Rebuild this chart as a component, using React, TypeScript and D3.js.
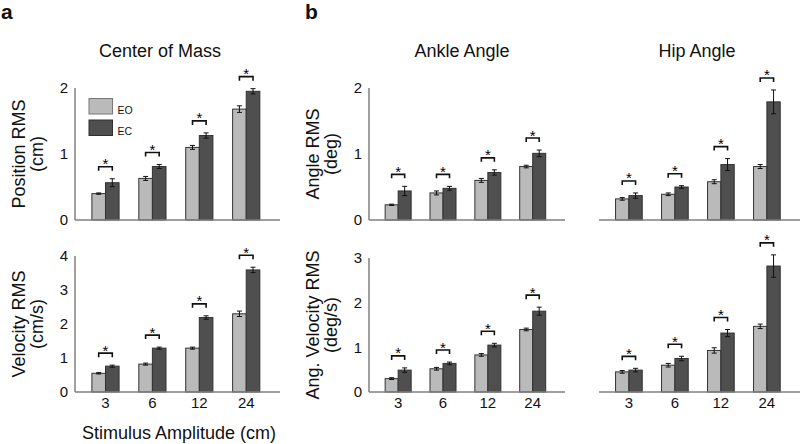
import React from "react";
import * as d3 from "d3";

// ---- data ----
const amplitudes = ["3", "6", "12", "24"];
const conditions = ["EO", "EC"];

const comPosEO = [0.4, 0.63, 1.1, 1.68];
const comPosEOErr = [0.01, 0.03, 0.03, 0.05];
const comPosEC = [0.565, 0.81, 1.28, 1.95];
const comPosECErr = [0.06, 0.03, 0.04, 0.04];

const comVelEO = [0.55, 0.82, 1.29, 2.3];
const comVelEOErr = [0.02, 0.03, 0.03, 0.08];
const comVelEC = [0.76, 1.29, 2.19, 3.59];
const comVelECErr = [0.03, 0.03, 0.05, 0.08];

const ankPosEO = [0.23, 0.41, 0.6, 0.81];
const ankPosEOErr = [0.01, 0.03, 0.03, 0.02];
const ankPosEC = [0.44, 0.48, 0.72, 1.01];
const ankPosECErr = [0.07, 0.03, 0.04, 0.05];

const hipPosEO = [0.32, 0.39, 0.58, 0.81];
const hipPosEOErr = [0.02, 0.02, 0.03, 0.03];
const hipPosEC = [0.37, 0.5, 0.84, 1.79];
const hipPosECErr = [0.04, 0.02, 0.09, 0.18];

const ankVelEO = [0.3, 0.52, 0.83, 1.4];
const ankVelEOErr = [0.02, 0.03, 0.03, 0.03];
const ankVelEC = [0.49, 0.64, 1.05, 1.81];
const ankVelECErr = [0.05, 0.03, 0.04, 0.09];

const hipVelEO = [0.45, 0.6, 0.93, 1.47];
const hipVelEOErr = [0.03, 0.04, 0.06, 0.05];
const hipVelEC = [0.49, 0.75, 1.32, 2.82];
const hipVelECErr = [0.04, 0.05, 0.08, 0.25];

const posTicks = [0, 1, 2];
const comVelTicks = [0, 1, 2, 3, 4];
const angVelTicks = [0, 1, 2, 3];

// ---- styling ----
const FONT = "'Liberation Sans', Arial, Helvetica, sans-serif";
const EO_FILL = "#bababa";
const EC_FILL = "#4f4f4f";
const BAR_STROKE = "#333";
const AXIS = "#808080";

type PanelProps = {
  x0: number;
  x1: number;
  yTop: number;
  yBottom: number;
  ymax: number;
  ticks: number[] | null;
  eo: number[];
  eoErr: number[];
  ec: number[];
  ecErr: number[];
  ylabel?: [string, string];
  title?: string;
  titleX?: number;
  xLabels?: boolean;
  legend?: boolean;
};

function Panel(p: PanelProps) {
  const x = d3.scaleLinear().domain([0.35, 4.72]).range([p.x0, p.x1]);
  const y = d3.scaleLinear().domain([0, p.ymax]).range([p.yBottom, p.yTop]);
  const bw = x(1.29) - x(1);
  const cats = d3.range(amplitudes.length);
  const center = (i: number) => x(i + 1);
  const yMid = (p.yTop + p.yBottom) / 2;

  return (
    <g fontFamily={FONT}>
      {p.title && (
        <text x={p.titleX} y={57} fontSize={18} textAnchor="middle" fill="#111">
          {p.title}
        </text>
      )}
      {cats.map((i) => {
        const c = center(i);
        const bars = [
          { v: p.eo[i], e: p.eoErr[i], x: c - bw, fill: EO_FILL },
          { v: p.ec[i], e: p.ecErr[i], x: c, fill: EC_FILL },
        ];
        const top = Math.max(p.eo[i] + p.eoErr[i], p.ec[i] + p.ecErr[i]);
        const by = y(top) - 12;
        const bx0 = c - bw / 2;
        const bx1 = c + bw / 2;
        return (
          <g key={i}>
            {bars.map((b, j) => (
              <g key={j}>
                <rect
                  x={b.x}
                  y={y(b.v)}
                  width={bw}
                  height={y(0) - y(b.v)}
                  fill={b.fill}
                  stroke={BAR_STROKE}
                  strokeWidth={1}
                />
                <g stroke="#111" strokeWidth={1}>
                  <line x1={b.x + bw / 2} x2={b.x + bw / 2} y1={y(b.v - b.e)} y2={y(b.v + b.e)} />
                  <line x1={b.x + bw / 2 - 2.5} x2={b.x + bw / 2 + 2.5} y1={y(b.v - b.e)} y2={y(b.v - b.e)} />
                  <line x1={b.x + bw / 2 - 2.5} x2={b.x + bw / 2 + 2.5} y1={y(b.v + b.e)} y2={y(b.v + b.e)} />
                </g>
              </g>
            ))}
            <path
              d={`M${bx0},${by + 4}V${by}H${bx1}V${by + 4}`}
              fill="none"
              stroke="#111"
              strokeWidth={1.6}
            />
            <text x={c} y={by + 2.5} fontSize={15} textAnchor="middle" fill="#000">
              *
            </text>
            {p.xLabels && (
              <text x={c} y={408} fontSize={15} textAnchor="middle" fill="#111">
                {amplitudes[i]}
              </text>
            )}
          </g>
        );
      })}
      <line x1={p.x0} x2={p.x1} y1={y(0)} y2={y(0)} stroke={AXIS} strokeWidth={1.5} />
      {p.ticks && (
        <g>
          <line x1={p.x0} x2={p.x0} y1={y(p.ymax)} y2={y(0)} stroke={AXIS} strokeWidth={1.5} />
          {p.ticks.map((t) => (
            <text key={t} x={p.x0 - 7} y={y(t) + 5.3} fontSize={15} textAnchor="end" fill="#111">
              {t}
            </text>
          ))}
        </g>
      )}
      {p.ylabel && (
        <g fontSize={18} fill="#111" textAnchor="middle">
          <text transform={`translate(${p.x0 - 50},${yMid}) rotate(-90)`}>{p.ylabel[0]}</text>
          <text transform={`translate(${p.x0 - 32},${yMid}) rotate(-90)`}>{p.ylabel[1]}</text>
        </g>
      )}
      {p.legend && (
        <g>
          {conditions.map((c, k) => (
            <g key={c}>
              <rect
                x={89}
                y={98.5 + k * 21.5}
                width={23.5}
                height={15.5}
                fill={k === 0 ? EO_FILL : EC_FILL}
                stroke={k === 0 ? "#777" : "#2f2f2f"}
                strokeWidth={1}
              />
              <text x={117.5} y={113.5 + k * 21} fontSize={10.5} fill="#111">
                {c}
              </text>
            </g>
          ))}
        </g>
      )}
    </g>
  );
}

export default function App() {
  return (
    <svg
      width={800}
      height={444}
      viewBox="0 0 800 444"
      style={{ position: "absolute", left: 0, top: 0, background: "#fff" }}
    >
      <rect width={800} height={444} fill="#fff" />
      <text x={1} y={19} fontFamily={FONT} fontWeight="bold" fontSize={21} fill="#111">
        a
      </text>
      <text x={305} y={19} fontFamily={FONT} fontWeight="bold" fontSize={21} fill="#111">
        b
      </text>

      <Panel
        x0={75} x1={280} yTop={88} yBottom={220} ymax={2} ticks={posTicks}
        eo={comPosEO} eoErr={comPosEOErr} ec={comPosEC} ecErr={comPosECErr}
        ylabel={["Position RMS", "(cm)"]} title="Center of Mass" titleX={160} legend
      />
      <Panel
        x0={75} x1={280} yTop={256} yBottom={392} ymax={4} ticks={comVelTicks}
        eo={comVelEO} eoErr={comVelEOErr} ec={comVelEC} ecErr={comVelECErr}
        ylabel={["Velocity RMS", "(cm/s)"]} xLabels
      />
      <Panel
        x0={369} x1={565} yTop={88} yBottom={220} ymax={2} ticks={posTicks}
        eo={ankPosEO} eoErr={ankPosEOErr} ec={ankPosEC} ecErr={ankPosECErr}
        ylabel={["Angle RMS", "(deg)"]} title="Ankle Angle" titleX={462}
      />
      <Panel
        x0={369} x1={565} yTop={258} yBottom={392} ymax={3} ticks={angVelTicks}
        eo={ankVelEO} eoErr={ankVelEOErr} ec={ankVelEC} ecErr={ankVelECErr}
        ylabel={["Ang. Velocity RMS", "(deg/s)"]} xLabels
      />
      <Panel
        x0={599} x1={800} yTop={88} yBottom={220} ymax={2} ticks={null}
        eo={hipPosEO} eoErr={hipPosEOErr} ec={hipPosEC} ecErr={hipPosECErr}
        title="Hip Angle" titleX={697}
      />
      <Panel
        x0={599} x1={800} yTop={258} yBottom={392} ymax={3} ticks={null}
        eo={hipVelEO} eoErr={hipVelEOErr} ec={hipVelEC} ecErr={hipVelECErr}
        xLabels
      />

      <text x={179} y={439} fontFamily={FONT} fontSize={18} textAnchor="middle" fill="#111">
        Stimulus Amplitude (cm)
      </text>
    </svg>
  );
}
